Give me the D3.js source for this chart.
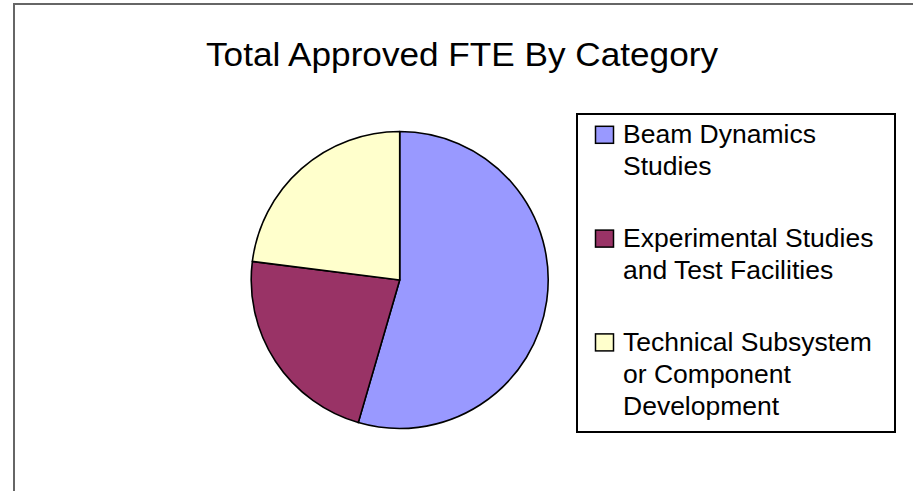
<!DOCTYPE html>
<html>
<head>
<meta charset="utf-8">
<script src="https://cdn.jsdelivr.net/npm/d3@7"></script>
<style>
  body { margin: 0; background: #fff; }
  svg { display: block; font-family: "Liberation Sans", Arial, sans-serif; }
</style>
</head>
<body>
<div id="chart"></div>
<script>
// --- data
const categories = ["Beam Dynamics Studies", "Experimental Studies and Test Facilities", "Technical Subsystem or Component Development"];
const legendLines = [
  ["Beam Dynamics", "Studies"],
  ["Experimental Studies", "and Test Facilities"],
  ["Technical Subsystem", "or Component", "Development"]
];
const fteValues = [54.5, 22.5, 23.0];
const sliceColors = ["#9999FF", "#993366", "#FFFFCC"];
const titleText = "Total Approved FTE By Category";

const W = 913, H = 491;
const svg = d3.select("#chart").append("svg").attr("width", W).attr("height", H);

// outer frame (only top + left edges visible)
svg.append("path")
  .attr("d", `M14,${H} L14,4 L${W},4`)
  .attr("fill", "none").attr("stroke", "#666").attr("stroke-width", 2);

// title
svg.append("text")
  .attr("x", 462).attr("y", 66)
  .attr("text-anchor", "middle")
  .attr("font-size", 33)
  .attr("textLength", 512).attr("lengthAdjust", "spacingAndGlyphs")
  .attr("fill", "#000")
  .text(titleText);

// pie
const cx = 399.7, cy = 280, r = 148.5;
const color = d3.scaleOrdinal().domain(categories).range(sliceColors);
const pie = d3.pie().sort(null).value(d => d.v);
const arc = d3.arc().innerRadius(0).outerRadius(r);
const pieData = pie(categories.map((c, i) => ({ c, v: fteValues[i] })));

svg.append("g").attr("transform", `translate(${cx},${cy})`)
  .selectAll("path").data(pieData).join("path")
  .attr("d", arc)
  .attr("fill", d => color(d.data.c))
  .attr("stroke", "#000").attr("stroke-width", 1.6)
  .attr("stroke-linejoin", "round");

// legend
const lg = svg.append("g");
lg.append("rect")
  .attr("x", 577).attr("y", 114).attr("width", 318).attr("height", 318)
  .attr("fill", "#fff").attr("stroke", "#000").attr("stroke-width", 2);

const lineH = 32, entryGap = 71.8;
let base = 143.3;
categories.forEach((c, i) => {
  lg.append("rect")
    .attr("x", 595.5).attr("y", base - 17).attr("width", 18).attr("height", 17)
    .attr("fill", color(c)).attr("stroke", "#000").attr("stroke-width", 1.5);
  const t = lg.append("text").attr("font-size", 26.5).attr("fill", "#000");
  legendLines[i].forEach((ln, j) => {
    t.append("tspan").attr("x", 623).attr("y", base + j * lineH).text(ln);
  });
  base += (legendLines[i].length - 1) * lineH + entryGap;
});
</script>
</body>
</html>
